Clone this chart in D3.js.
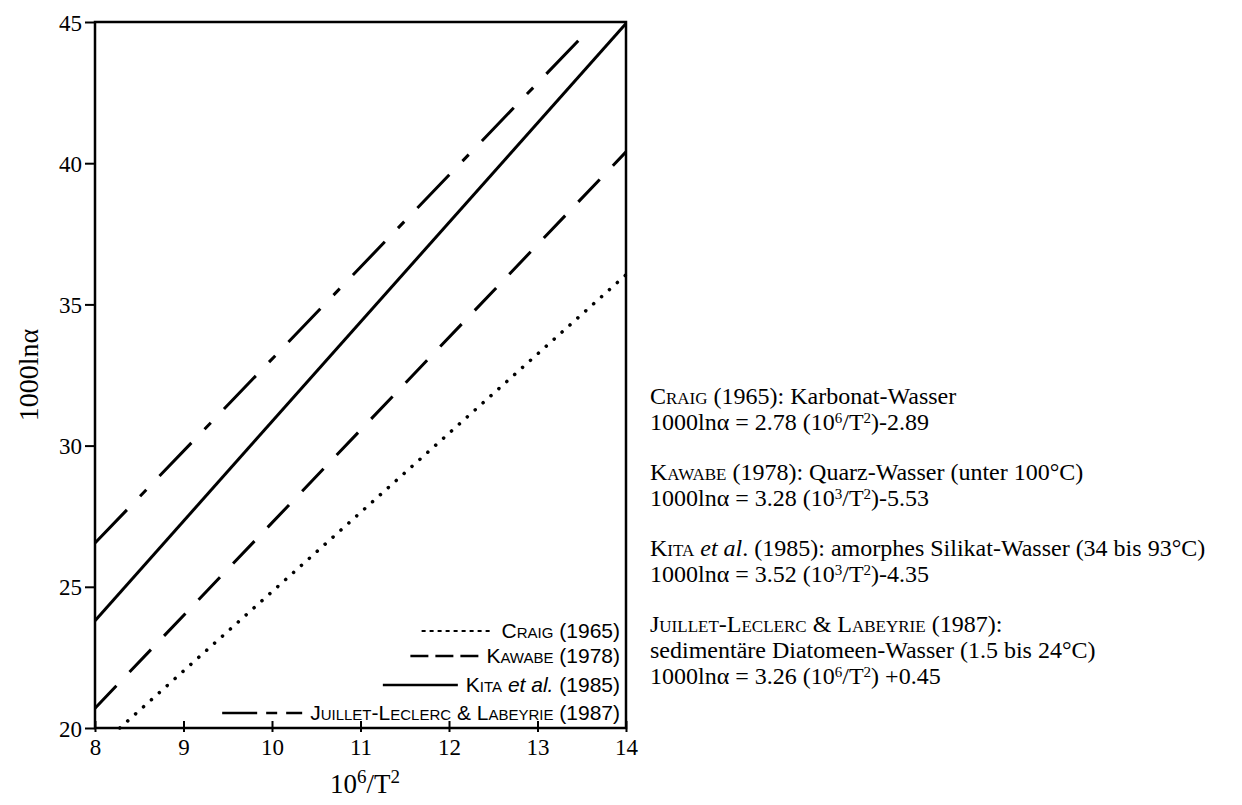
<!DOCTYPE html>
<html>
<head>
<meta charset="utf-8">
<script src="https://cdn.jsdelivr.net/npm/d3@7"></script>
<style>
  body { margin: 0; background: #fff; }
  text { fill: #000; }
</style>
</head>
<body>
<div id="chart"></div>
<script>
// four fractionation lines, endpoints
var seriesNames = ["Craig (1965)", "Kawabe (1978)", "Kita et al. (1985)", "Juillet-Leclerc & Labeyrie (1987)"];
var xStart = [8.28, 8, 8, 8];
var yStart = [20, 20.7, 23.8, 26.55];
var xEnd = [14, 14, 14, 13.56];
var yEnd = [36.05, 40.4, 44.95, 44.66];

var xTicks = [8, 9, 10, 11, 12, 13, 14];
var yTicks = [20, 25, 30, 35, 40, 45];

// legend labels as styled pieces: sc = small caps, i = italic
var legendLabels = [
  [["Craig", "sc"], [" (1965)"]],
  [["Kawabe", "sc"], [" (1978)"]],
  [["Kita", "sc"], [" "], ["et al.", "i"], [" (1985)"]],
  [["Juillet-Leclerc", "sc"], [" & "], ["Labeyrie", "sc"], [" (1987)"]]
];

// note block on the right
var noteLines = [
  [["Craig", "sc"], [" (1965): Karbonat-Wasser"]],
  [["1000lnα = 2.78 (10"], ["6", "sup"], ["/T"], ["2", "sup"], [")-2.89"]],
  [["Kawabe", "sc"], [" (1978): Quarz-Wasser (unter 100°C)"]],
  [["1000lnα = 3.28 (10"], ["3", "sup"], ["/T"], ["2", "sup"], [")-5.53"]],
  [["Kita", "sc"], [" "], ["et al", "i"], [". (1985): amorphes Silikat-Wasser (34 bis 93°C)"]],
  [["1000lnα = 3.52 (10"], ["3", "sup"], ["/T"], ["2", "sup"], [")-4.35"]],
  [["Juillet-Leclerc", "sc"], [" & "], ["Labeyrie", "sc"], [" (1987):"]],
  [["sedimentäre Diatomeen-Wasser (1.5 bis 24°C)"]],
  [["1000lnα = 3.26 (10"], ["6", "sup"], ["/T"], ["2", "sup"], [") +0.45"]]
];
var noteBaselines = [404, 430, 480, 506, 556, 582, 632, 658, 684];

var W = 1242, H = 805;
var margin = {top: 22, right: 616, bottom: 77, left: 95};
var width = W - margin.left - margin.right,
    height = H - margin.top - margin.bottom;

var serif = "'Liberation Serif', 'Times New Roman', serif";
var sans = "'Liberation Sans', Arial, sans-serif";

var svg = d3.select("#chart").append("svg")
    .attr("width", W)
    .attr("height", H);

var g = svg.append("g").attr("transform", "translate(" + margin.left + "," + margin.top + ")");

var x = d3.scaleLinear().domain([8, 14]).range([0, width]);
var y = d3.scaleLinear().domain([20, 45]).range([height, 0]);

// styles per line
var dashes = ["0.1,10.5", "31,19", null, "46,19,9,19"];
var caps = ["round", "butt", "butt", "butt"];
var legendDashes = ["4,4", "18,7", null, "35,9,11,9"];
var sampleLen = [72, 68, 75, 80];

// helper: write styled pieces into a text element
function styled(textSel, pieces, supSize, lift) {
  var shift = 0;
  pieces.forEach(function(p) {
    var t = textSel.append("tspan").text(p[0]);
    var dy = 0;
    if (p[1] == "sup") {
      t.style("font-size", supSize + "px");
      dy = -lift - shift; shift = -lift;
    } else {
      dy = -shift; shift = 0;
    }
    if (dy != 0) t.attr("dy", dy);
    if (p[1] == "sc") t.style("font-variant", "small-caps");
    if (p[1] == "i") t.style("font-style", "italic");
  });
}

// axes
var yAxis = d3.axisLeft(y).tickValues(yTicks).tickSize(10).tickPadding(3).tickFormat(d3.format("d"));
var xAxis = d3.axisBottom(x).tickValues(xTicks).tickSize(4).tickPadding(6).tickFormat(d3.format("d"));

var ya = g.append("g").call(yAxis);
var xa = g.append("g").attr("transform", "translate(0," + height + ")").call(xAxis);

[ya, xa].forEach(function(a) {
  a.select(".domain").remove();
  a.selectAll("line").attr("stroke", "#000").attr("stroke-width", 2);
  a.selectAll("text").style("font-family", serif).style("font-size", "23px").attr("fill", "#000");
});
ya.selectAll("text").attr("dy", "0.35em");
xa.selectAll("text").attr("dy", "0.75em");

// inner x ticks
xa.selectAll(".tick").append("line")
    .attr("y1", 0).attr("y2", -7)
    .attr("stroke", "#000").attr("stroke-width", 2);

// frame
g.append("rect")
    .attr("x", 0).attr("y", 0)
    .attr("width", width).attr("height", height)
    .attr("fill", "none")
    .attr("stroke", "#000")
    .attr("stroke-width", 2.5);

// lines
var line = d3.line().x(function(d) { return x(d[0]); }).y(function(d) { return y(d[1]); });

g.selectAll(".fline")
    .data(seriesNames)
    .enter().append("path")
    .attr("class", "fline")
    .attr("d", function(d, i) { return line([[xStart[i], yStart[i]], [xEnd[i], yEnd[i]]]); })
    .attr("fill", "none")
    .attr("stroke", "#000")
    .attr("stroke-width", function(d, i) { return i == 0 ? 3.5 : 3; })
    .attr("stroke-linecap", function(d, i) { return caps[i]; })
    .attr("stroke-dasharray", function(d, i) { return dashes[i]; });

// legend, right aligned inside the plot
var legendRight = width - 6;
var legendBase = [616, 641, 670, 698];

seriesNames.forEach(function(name, i) {
  var t = g.append("text")
      .attr("x", legendRight)
      .attr("y", legendBase[i])
      .attr("text-anchor", "end")
      .style("font-family", sans)
      .style("font-size", "21px");
  styled(t, legendLabels[i], 14, 8);
  var tw = t.node().getComputedTextLength();
  var x1 = legendRight - tw - 8;
  g.append("line")
      .attr("x1", x1 - sampleLen[i]).attr("x2", x1)
      .attr("y1", legendBase[i] - 7).attr("y2", legendBase[i] - 7)
      .attr("stroke", "#000")
      .attr("stroke-width", i == 0 ? 2 : 2.5)
      .attr("stroke-dasharray", legendDashes[i]);
});

// axis titles
var xt = svg.append("text")
    .attr("x", 365)
    .attr("y", 793)
    .attr("text-anchor", "middle")
    .style("font-family", serif)
    .style("font-size", "27px");
styled(xt, [["10"], ["6", "sup"], ["/T"], ["2", "sup"]], 19, 10);

svg.append("text")
    .attr("transform", "translate(38," + 375 + ") rotate(-90)")
    .attr("text-anchor", "middle")
    .style("font-family", serif)
    .style("font-size", "28px")
    .text("1000lnα");

// notes
noteLines.forEach(function(pieces, i) {
  var t = svg.append("text")
      .attr("x", 650)
      .attr("y", noteBaselines[i])
      .style("font-family", serif)
      .style("font-size", "24px");
  styled(t, pieces, 15, 7);
});
</script>
</body>
</html>
